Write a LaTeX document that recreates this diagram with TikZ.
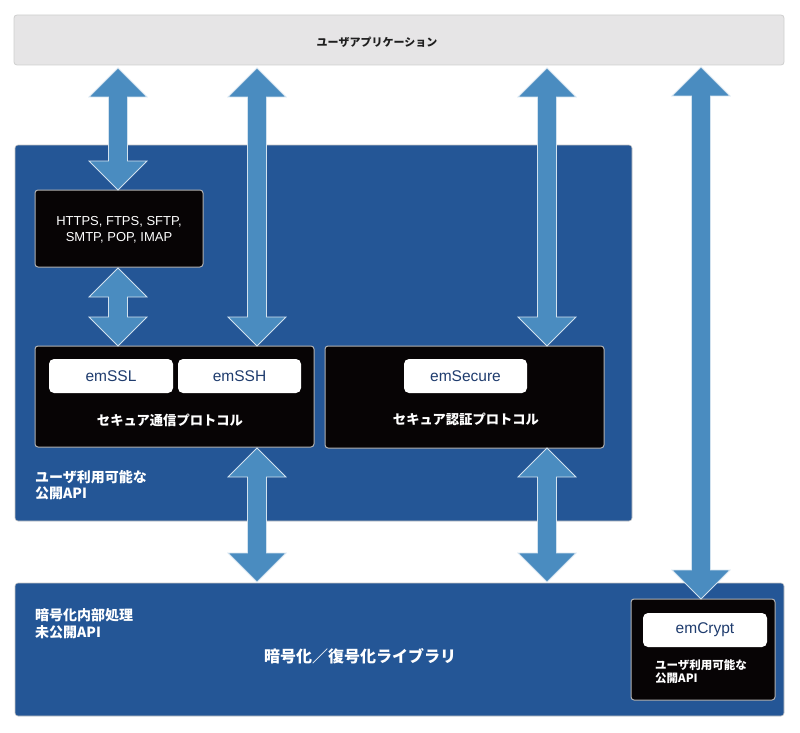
\documentclass[tikz,border=0pt]{standalone}
\usepackage{fontspec}
\setmainfont{Liberation Sans}
\newfontfamily\jp{Noto Sans CJK JP}
\usetikzlibrary{calc}
\definecolor{topgray}{HTML}{E6E5E6}
\definecolor{topedge}{HTML}{CFCFCF}
\definecolor{deepblue}{HTML}{245696}
\definecolor{arrowblue}{HTML}{4A8CC0}
\definecolor{navytext}{HTML}{1F3C6E}
\definecolor{boxblack}{HTML}{070405}
\newcommand{\fs}[2]{\fontsize{#1}{#2}\selectfont}
\newcommand{\dblarrow}[2]{%
  \path[fatarrow] let \p1=#1, \p2=#2 in
    (\x1,\y1) -- (\x1+29pt,\y1-29pt) -- (\x1+9.5pt,\y1-29pt) -- (\x1+9.5pt,\y2+29pt)
    -- (\x1+29pt,\y2+29pt) -- (\x1,\y2) -- (\x1-29pt,\y2+29pt) -- (\x1-9.5pt,\y2+29pt)
    -- (\x1-9.5pt,\y1-29pt) -- (\x1-29pt,\y1-29pt) -- cycle;}
\tikzset{
  box/.style={inner sep=0pt, outer sep=0pt, anchor=north west, rounded corners=3pt},
  topbox/.style={box, fill=topgray, draw=topedge, line width=0.8pt},
  bluebox/.style={box, fill=deepblue, draw=gray!45, line width=0.6pt},
  blackbox/.style={box, fill=boxblack, draw=gray!60, line width=1pt},
  whitebox/.style={box, fill=white, rounded corners=5pt, text=navytext, font=\fs{15.5}{18}},
  jplabel/.style={inner sep=0pt, text=white},
  fatarrow/.style={fill=arrowblue, draw=white!75!arrowblue, line width=0.8pt, line join=miter},
}
\begin{document}
\begin{tikzpicture}[x=1pt, y=-1pt]
\useasboundingbox (0,0) rectangle (800,733);
% boxes
\node[topbox, minimum width=770pt, minimum height=50pt] (app) at (14,15) {};
\node[jplabel, text=black!88, font=\jp\bfseries\fs{11}{13}] (applabel) at (377,42) {ユーザアプリケーション};

\node[bluebox, minimum width=617pt, minimum height=376pt] (mid) at (15,145) {};
\node[bluebox, minimum width=769pt, minimum height=133pt] (bot) at (15,583) {};

\node[blackbox, minimum width=168pt, minimum height=77pt] (https) at (35,190) {};
\node[jplabel, align=center, font=\fs{13}{16}] (httpslabel) at (119,230) {HTTPS, FTPS, SFTP,\\SMTP, POP, IMAP};

\node[blackbox, minimum width=279pt, minimum height=101pt] (sec) at (35,346) {};
\node[whitebox, minimum width=124pt, minimum height=34pt] (emssl) at (49,359) {emSSL};
\node[whitebox, minimum width=123pt, minimum height=34pt] (emssh) at (178,359) {emSSH};
\node[jplabel, font=\jp\bfseries\fs{13.3}{16}] (seclabel) at (170,420) {セキュア通信プロトコル};

\node[blackbox, minimum width=279pt, minimum height=102pt] (auth) at (325,346) {};
\node[whitebox, minimum width=123pt, minimum height=34pt] (emsecure) at (404,359) {emSecure};
\node[jplabel, font=\jp\bfseries\fs{13.3}{16}] (authlabel) at (466,419) {セキュア認証プロトコル};

\node[jplabel, anchor=west, align=left, font=\jp\bfseries\fs{14}{16.5}] (midlabel) at (35,485) {ユーザ利用可能な\\公開API};

\node[jplabel, anchor=west, align=left, font=\jp\bfseries\fs{14}{17}] (botlabel) at (35,623.5) {暗号化内部処理\\未公開API};
\node[jplabel, font=\jp\bfseries\fs{16}{19}] (libname) at (360,656) {暗号化／復号化ライブラリ};

\node[blackbox, minimum width=144pt, minimum height=101pt] (crypt) at (631,599) {};
\node[whitebox, minimum width=124pt, minimum height=34pt] (emcrypt) at (643,613) {emCrypt};
\node[jplabel, anchor=west, align=left, font=\jp\bfseries\fs{11.5}{13}] (cryptlabel) at (655,672) {ユーザ利用可能な\\公開API};

% arrow axes
\coordinate (c1) at (118,0);
\coordinate (c2) at (257,0);
\coordinate (c3) at (547,0);
\coordinate (c4) at (701,0);

% arrows
\dblarrow{($(app.south -| c1)+(0,3)$)}{(https.north -| c1)}
\dblarrow{($(app.south -| c2)+(0,3)$)}{(sec.north -| c2)}
\dblarrow{($(app.south -| c3)+(0,3)$)}{(auth.north -| c3)}
\dblarrow{($(app.south -| c4)+(0,2)$)}{(crypt.north -| c4)}
\dblarrow{($(https.south -| c1)+(0,1)$)}{(sec.north -| c1)}
\dblarrow{($(sec.south -| c2)+(0,1)$)}{($(bot.north -| c2)+(0,-1)$)}
\dblarrow{($(auth.south -| c3)$)}{($(bot.north -| c3)+(0,-1)$)}
\end{tikzpicture}
\end{document}
